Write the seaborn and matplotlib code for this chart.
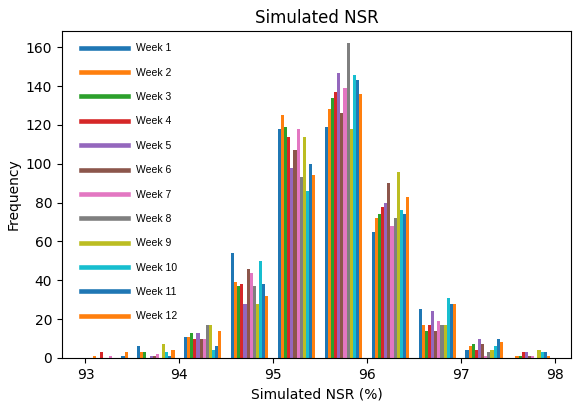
import matplotlib
matplotlib.use("Agg")
import matplotlib.pyplot as plt
from matplotlib.lines import Line2D
import numpy as np
import pandas as pd
import seaborn as sns

# bin edges of the histogram (NSR in %)
bin_edges = [93.0, 93.5, 94.0, 94.5, 95.0, 95.5, 96.0, 96.5, 97.0, 97.5, 98.0]
weeks = ["Week 1", "Week 2", "Week 3", "Week 4", "Week 5", "Week 6",
         "Week 7", "Week 8", "Week 9", "Week 10", "Week 11", "Week 12"]

# counts per bin
week1 = [0, 6, 11, 54, 118, 119, 65, 25, 4, 0]
week2 = [1, 3, 11, 39, 125, 128, 72, 17, 6, 1]
week3 = [0, 3, 13, 37, 119, 134, 74, 14, 7, 1]
week4 = [3, 0, 10, 38, 114, 137, 78, 17, 4, 3]
week5 = [0, 1, 13, 28, 98, 147, 80, 24, 10, 3]
week6 = [0, 1, 10, 46, 107, 126, 90, 14, 7, 1]
week7 = [1, 2, 10, 44, 118, 139, 68, 19, 1, 1]
week8 = [0, 0, 17, 37, 93, 162, 72, 17, 3, 0]
week9 = [0, 7, 17, 28, 114, 118, 96, 17, 4, 4]
week10 = [0, 3, 4, 50, 86, 146, 76, 31, 6, 3]
week11 = [1, 1, 6, 38, 100, 143, 74, 28, 10, 3]
week12 = [3, 4, 14, 32, 94, 136, 83, 28, 8, 1]

all_counts = [week1, week2, week3, week4, week5, week6,
              week7, week8, week9, week10, week11, week12]

# expand counts into samples at the bin centres so histplot can bin them again
centers = (np.array(bin_edges[:-1]) + np.array(bin_edges[1:])) / 2
rows = []
for wk, cnt in zip(weeks, all_counts):
    vals = np.repeat(centers, cnt)
    rows.append(pd.DataFrame({"nsr": vals, "week": wk}))
df = pd.concat(rows, ignore_index=True)

base = sns.color_palette("tab10")
palette = [base[i % 10] for i in range(len(weeks))]

fig, ax = plt.subplots(figsize=(5.73, 4.07), dpi=100)
fig.subplots_adjust(left=0.1082, right=0.9965, top=0.9238, bottom=0.1204)

sns.histplot(data=df, x="nsr", hue="week", hue_order=weeks, palette=palette,
             bins=bin_edges, multiple="dodge", shrink=0.8, alpha=1,
             edgecolor="none", linewidth=0, legend=False, ax=ax)

ax.set_xlim(92.75, 98.175)
ax.set_ylim(0, 168.4)
ax.set_title("Simulated NSR", fontsize=12)
ax.set_xlabel("Simulated NSR (%)")
ax.set_ylabel("Frequency")

handles = [Line2D([0], [0], color=palette[i], lw=3.3) for i in range(len(weeks))]
ax.legend(handles, weeks, loc="upper left", bbox_to_anchor=(0.029, 0.975),
          borderaxespad=0, frameon=False, handlelength=4.5, handletextpad=0.75,
          labelspacing=1.38, prop={"family": "Liberation Sans", "size": 7.5})

plt.savefig("out.png", dpi=100)
